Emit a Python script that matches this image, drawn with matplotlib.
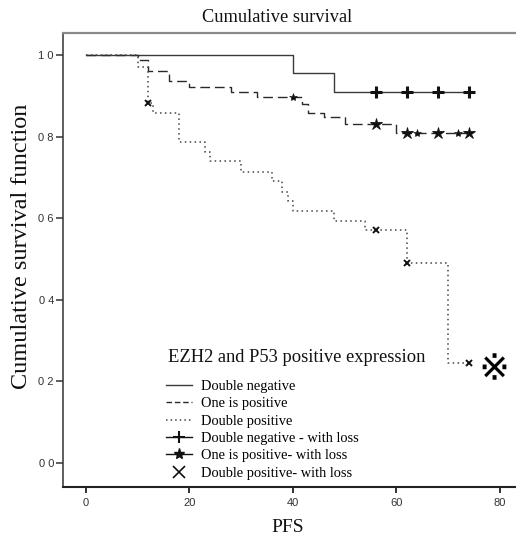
import numpy as np
import matplotlib
matplotlib.use("Agg")
import matplotlib.pyplot as plt
from matplotlib.lines import Line2D

# ---- data ----
dn_t = [0, 40, 48, 74]
dn_s = [1.0, 0.955, 0.909, 0.909]
dn_cens_t = [56, 62, 68, 74]

op_t = [0, 10, 12, 16, 20, 28, 33, 41.7, 43, 46, 50, 60, 74]
op_s = [1.0, 0.988, 0.962, 0.937, 0.921, 0.909, 0.896, 0.880, 0.857, 0.847, 0.832, 0.808, 0.808]
op_cens_t = [56, 62, 68, 74]
op_cens_minor_t = [40, 64, 72]

dp_t = [0, 10, 12, 13, 18, 23, 24, 30, 36, 38, 39, 40, 48, 54, 62, 70, 74]
dp_s = [1.0, 0.971, 0.882, 0.859, 0.788, 0.763, 0.739, 0.714, 0.690, 0.665, 0.643,
        0.618, 0.594, 0.571, 0.489, 0.244, 0.244]
dp_cens_t = [12, 56, 62, 74]

extra_mark_t = [79]
extra_mark_s = [0.237]

x_ticks = [0, 20, 40, 60, 80]
y_ticks = [0.0, 0.2, 0.4, 0.6, 0.8, 1.0]
y_tick_labels = ["0 0", "0 2", "0 4", "0 6", "0 8", "1 0"]

labels = ["Double negative", "One is positive", "Double positive",
          "Double negative - with loss", "One is positive- with loss",
          "Double positive- with loss"]
legend_title = "EZH2 and P53 positive expression"
title = "Cumulative survival"
xlabel = "PFS"
ylabel = "Cumulative survival function"


def surv_at(ts, times, surv):
    times = np.asarray(times)
    surv = np.asarray(surv)
    idx = np.searchsorted(times, np.asarray(ts), side="right") - 1
    return surv[idx]


SERIF = ["Liberation Serif", "DejaVu Serif"]
SANS = ["Liberation Sans", "DejaVu Sans"]
W, H = 516, 536
fig = plt.figure(figsize=(W / 100, H / 100), dpi=100)
ax_l, ax_r, ax_t, ax_b = 63, 520.3, 33, 487
ax = fig.add_axes([ax_l / W, 1 - ax_b / H, (ax_r - ax_l) / W, (ax_b - ax_t) / H])
ax.set_xlim(-4.45, 84)
ax.set_ylim(-0.059, 1.054)

col = "#2a2a2a"
# curves
l1, = ax.step(dn_t, dn_s, where="post", color="#3a3a3a", lw=1.0)
l2, = ax.step(op_t, op_s, where="post", color=col, lw=1.0)
l2.set_dashes([7, 3.5])
l3, = ax.step(dp_t, dp_s, where="post", color="#444444", lw=1.1)
l3.set_dashes([1.0, 2.2])

# censor marks
ax.plot(dn_cens_t, surv_at(dn_cens_t, dn_t, dn_s), ls="none", marker="+",
        ms=9, mew=2.2, color="#111111")
ax.plot(op_cens_t, surv_at(op_cens_t, op_t, op_s), ls="none", marker="*",
        ms=9, mew=0.6, color="#111111")
ax.plot(op_cens_minor_t, surv_at(op_cens_minor_t, op_t, op_s), ls="none", marker="*",
        ms=6, mew=0.4, color="#111111")
ax.plot(dp_cens_t, surv_at(dp_cens_t, dp_t, dp_s), ls="none", marker="x",
        ms=4, mew=1.4, color="#111111")
ax.plot(extra_mark_t, extra_mark_s, ls="none", marker="$\u203b$",
        ms=19, mew=0.1, color="#000000")

# spines
ax.spines["right"].set_visible(False)
ax.spines["top"].set_color("#8a8a8a")
ax.spines["top"].set_linewidth(1.6)
ax.spines["left"].set_color("#333333")
ax.spines["left"].set_linewidth(1.1)
ax.spines["bottom"].set_color("#222222")
ax.spines["bottom"].set_linewidth(1.5)

ax.set_xticks(x_ticks)
ax.set_xticklabels([str(v) for v in x_ticks], fontfamily=SANS, fontsize=8, color="#333333")
ax.set_yticks(y_ticks)
ax.set_yticklabels(y_tick_labels, fontfamily=SANS, fontsize=8, color="#333333")
ax.tick_params(axis="x", direction="out", length=4, width=1.3, color="#222222", pad=4)
ax.tick_params(axis="y", direction="out", length=5, width=1.1, color="#333333", pad=1.5)

fig.text(277 / W, 1 - 17 / H, title, fontfamily=SERIF, fontsize=13.2,
         ha="center", va="center", color="#111111")
fig.text(288 / W, 1 - 527 / H, xlabel, fontfamily=SERIF, fontsize=14,
         ha="center", va="center", color="#111111")
fig.text(22 / W, 1 - 246 / H, ylabel, fontfamily=SERIF, fontsize=17.5,
         ha="center", va="center", rotation=90, color="#111111")

# legend title as separate text, then the legend entries
fig.text(168 / W, 1 - 357 / H, legend_title, fontfamily=SERIF, fontsize=13.3,
         ha="left", va="center", color="#111111")
handles = [
    Line2D([], [], color="#3a3a3a", lw=1.0),
    Line2D([], [], color=col, lw=1.0, dashes=[4, 2]),
    Line2D([], [], color="#444444", lw=1.1, dashes=[1.0, 2.0]),
    Line2D([], [], color="#111111", lw=1.0, marker="+", ms=8, mew=1.5),
    Line2D([], [], color="#111111", lw=1.0, marker="*", ms=8),
    Line2D([], [], color="#111111", ls="none", marker="x", ms=8, mew=1.2),
]
leg = fig.legend(handles, labels, loc="upper left",
                 bbox_to_anchor=(166 / W, 1 - 380 / H), frameon=False,
                 prop={"family": SERIF, "size": 10.4},
                 alignment="left", borderpad=0, borderaxespad=0,
                 labelspacing=0.29, handlelength=1.8, handletextpad=0.6)

fig.savefig("out.png", dpi=100)
